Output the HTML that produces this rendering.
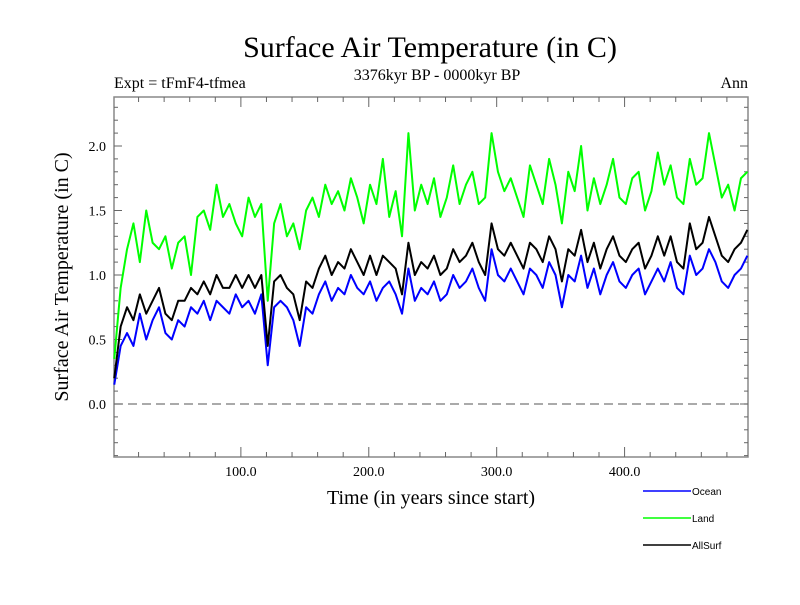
<!DOCTYPE html>
<html><head><meta charset="utf-8"><style>body{margin:0;background:#fff}svg text{font-family:"Liberation Serif",serif}</style></head>
<body>
<svg id="chart" width="800" height="600" xmlns="http://www.w3.org/2000/svg">
<rect width="800" height="600" fill="#fff"/>
<text x="430" y="57" font-size="30" text-anchor="middle">Surface Air Temperature (in C)</text>
<text x="114" y="88" font-size="16">Expt = tFmF4-tfmea</text>
<text x="437" y="80" font-size="16" text-anchor="middle">3376kyr BP - 0000kyr BP</text>
<text x="748" y="88" font-size="16" text-anchor="end">Ann</text>
<text transform="translate(68,277) rotate(-90)" font-size="20" text-anchor="middle">Surface Air Temperature (in C)</text>
<text x="431" y="504" font-size="20" text-anchor="middle">Time (in years since start)</text>
<g id="plot"></g>
</svg>
<script>
const years=[];for(let i=0;i<100;i++)years.push(1+i*5);
const ocean=[0.15,0.45,0.55,0.45,0.7,0.5,0.65,0.75,0.55,0.5,0.65,0.6,0.75,0.7,0.8,0.65,0.8,0.75,0.7,0.85,0.75,0.8,0.7,0.85,0.3,0.75,0.8,0.75,0.65,0.45,0.75,0.7,0.85,0.95,0.8,0.9,0.85,1.0,0.9,0.85,0.95,0.8,0.9,0.95,0.85,0.7,1.05,0.8,0.9,0.85,0.95,0.8,0.85,1.0,0.9,0.95,1.05,0.9,0.8,1.2,1.0,0.95,1.05,0.95,0.85,1.05,1.0,0.9,1.1,1.0,0.75,1.0,0.95,1.15,0.9,1.05,0.85,1.0,1.1,0.95,0.9,1.0,1.05,0.85,0.95,1.05,0.95,1.1,0.9,0.85,1.15,1.0,1.05,1.2,1.1,0.95,0.9,1.0,1.05,1.15];
const land=[0.35,0.9,1.2,1.4,1.1,1.5,1.25,1.2,1.3,1.05,1.25,1.3,1.0,1.45,1.5,1.35,1.7,1.45,1.55,1.4,1.3,1.6,1.45,1.55,0.8,1.4,1.55,1.3,1.4,1.2,1.5,1.6,1.45,1.7,1.55,1.65,1.5,1.75,1.6,1.4,1.7,1.55,1.9,1.45,1.65,1.3,2.1,1.5,1.7,1.55,1.75,1.45,1.6,1.85,1.55,1.7,1.8,1.55,1.6,2.1,1.8,1.65,1.75,1.6,1.45,1.85,1.7,1.55,1.9,1.7,1.4,1.8,1.65,2.0,1.5,1.75,1.55,1.7,1.9,1.6,1.55,1.75,1.8,1.5,1.65,1.95,1.7,1.85,1.6,1.55,1.9,1.7,1.75,2.1,1.85,1.6,1.7,1.5,1.75,1.8];
const allsurf=[0.2,0.6,0.75,0.65,0.85,0.7,0.8,0.9,0.7,0.65,0.8,0.8,0.9,0.85,0.95,0.85,1.0,0.9,0.9,1.0,0.9,1.0,0.9,1.0,0.45,0.95,1.0,0.9,0.85,0.65,0.95,0.9,1.05,1.15,1.0,1.1,1.05,1.2,1.1,1.0,1.15,1.0,1.15,1.1,1.05,0.85,1.25,1.0,1.1,1.05,1.15,1.0,1.05,1.2,1.1,1.15,1.25,1.1,1.0,1.4,1.2,1.15,1.25,1.15,1.05,1.25,1.2,1.1,1.3,1.2,0.95,1.2,1.15,1.35,1.1,1.25,1.05,1.2,1.3,1.15,1.1,1.2,1.25,1.05,1.15,1.3,1.15,1.3,1.1,1.05,1.4,1.2,1.25,1.45,1.3,1.15,1.1,1.2,1.25,1.35];
const xTicks=[100,200,300,400];
const xTickLabels=["100.0","200.0","300.0","400.0"];
const yTicks=[0,0.5,1.0,1.5,2.0];
const yTickLabels=["0.0","0.5","1.0","1.5","2.0"];
const seriesNames=["Ocean","Land","AllSurf"];
const seriesColors=["#0000ff","#00ff00","#000000"];

const L=114,R=748,T=97,B=457;
const X=v=>L+(v-0.8)*(R-L)/(496.5-0.8);
const Y=v=>404-v*129;
const g=document.getElementById('plot');
const NS="http://www.w3.org/2000/svg";
function mk(t,a,p){const e=document.createElementNS(NS,t);for(const k in a)e.setAttribute(k,a[k]);(p||g).appendChild(e);return e;}
const box=mk('rect',{x:L,y:T,width:R-L,height:B-T,fill:'none',stroke:'#888','stroke-width':1.5});


const zl=mk('line',{x1:L,x2:R,y1:Y(0),y2:Y(0),stroke:'#777','stroke-width':1.3,'stroke-dasharray':'9,5'});


for(let v=-0.4;v<=2.45;v+=0.1){const y=Y(v);if(y<T||y>B)continue;const maj=Math.abs(Math.round(v*2)-v*2)<1e-6;const w=maj?8:4;
mk('line',{x1:L,x2:L+w,y1:y,y2:y,stroke:'#666'});mk('line',{x1:R-w,x2:R,y1:y,y2:y,stroke:'#666'});}
for(let v=20;v<=496;v+=20){const x=X(v);const maj=v%100===0;const w=maj?10:5;
mk('line',{x1:x,x2:x,y1:B-w,y2:B,stroke:'#666'});mk('line',{x1:x,x2:x,y1:T,y2:T+w,stroke:'#666'});}
yTicks.forEach((v,i)=>{const t=mk('text',{x:L-8,y:Y(v)+5,'font-size':14,'text-anchor':'end'});t.textContent=yTickLabels[i];

});
xTicks.forEach((v,i)=>{const t=mk('text',{x:X(v),y:B+19,'font-size':14,'text-anchor':'middle'});t.textContent=xTickLabels[i];

});
[land,ocean,allsurf].forEach((arr,k)=>{const idx=[1,0,2][k];
const p=mk('polyline',{points:arr.map((v,i)=>X(years[i])+','+Y(v)).join(' '),fill:'none',stroke:seriesColors[idx],'stroke-width':2,'stroke-linejoin':'round'});

});
seriesNames.forEach((n,i)=>{const y=491+i*27;
const l=mk('line',{x1:643,x2:691,y1:y,y2:y,stroke:seriesColors[i],'stroke-width':1.5});


const t=mk('text',{x:692,y:y+4,'font-size':10,style:'font-family:"Liberation Sans",sans-serif'});t.textContent=n;

});
</script>
</body></html>
